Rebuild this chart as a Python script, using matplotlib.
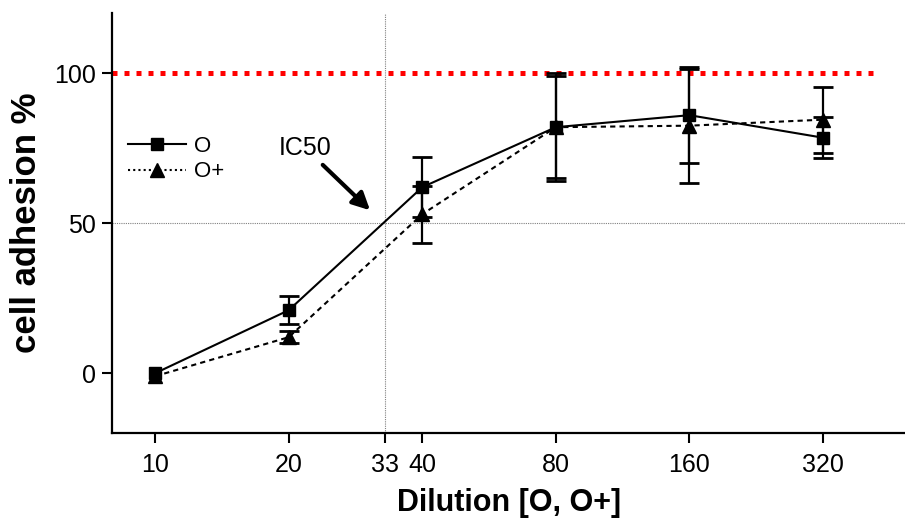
import numpy as np
import matplotlib.pyplot as plt
from matplotlib.ticker import FixedLocator, NullLocator

plt.rcParams['font.family'] = ['Liberation Sans', 'DejaVu Sans']

# dilution steps
dilution = [10, 20, 40, 80, 160, 320]
tick_vals = [10, 20, 33, 40, 80, 160, 320]
tick_labels = ['10', '20', '33', '40', '80', '160', '320']

# cell adhesion % (mean, error); no error bar at 10
o_mean = [0, 21, 62, 82, 86, 78.5]
o_err = [np.nan, 4.7, 10, 17, 16, 6.8]
oplus_mean = [-1, 12, 53, 82, 82.5, 84.5]
oplus_err = [np.nan, 2, 9.5, 18, 19, 11]

ic50 = 33

fig = plt.figure(figsize=(9.05, 5.27), dpi=100)
ax = fig.add_axes([0.124, 0.178, 0.876, 0.797])

ax.set_xscale('log', base=2)
ax.set_xlim(8, 490)
ax.set_ylim(-20, 120)

# reference lines
ax.axhline(100, xmax=0.96, color='red', lw=3.6, ls=(0, (1, 1.4)), dash_capstyle='butt', zorder=1)
ax.axhline(50, color='gray', lw=0.8, ls=(0, (1, 1)), zorder=1)
ax.axvline(ic50, color='gray', lw=0.8, ls=(0, (1, 1)), zorder=1)

ax.errorbar(dilution, o_mean, yerr=o_err, color='black', lw=1.5, marker='s', ms=8.5,
            capsize=7, capthick=2, elinewidth=1.6, label='O', zorder=3)
ax.errorbar(dilution, oplus_mean, yerr=oplus_err, color='black', lw=1.5, ls=(0, (2.5, 2)),
            marker='^', ms=9.5, capsize=7, capthick=2, elinewidth=1.6, label='O+', zorder=3)

ax.annotate('IC50', xy=(30.5, 54.3), xytext=(21.8, 75), fontsize=18,
            ha='center', va='center',
            arrowprops=dict(arrowstyle='-|>', color='black', lw=3, mutation_scale=26,
                            shrinkA=2, shrinkB=0))

handles, labels = ax.get_legend_handles_labels()
handles = [h[0] for h in handles]
leg = ax.legend(handles, labels, loc='upper left', bbox_to_anchor=(0.0, 0.745),
                frameon=False, fontsize=16, handlelength=2.6, handletextpad=0.4,
                labelspacing=0.2, borderaxespad=0.3)
leg.get_lines()[1].set_linestyle((0, (1, 1.5)))

ax.xaxis.set_major_locator(FixedLocator(tick_vals))
ax.xaxis.set_minor_locator(NullLocator())
ax.set_xticklabels(tick_labels, family=['Liberation Sans Narrow', 'Liberation Sans'])
ax.set_yticks([0, 50, 100])

ax.spines['top'].set_visible(False)
ax.spines['right'].set_visible(False)
ax.spines['left'].set_linewidth(1.6)
ax.spines['bottom'].set_linewidth(1.6)
ax.tick_params(axis='both', direction='out', length=7, width=1.5, labelsize=18)
ax.tick_params(axis='x', pad=7)
ax.tick_params(axis='y', pad=5)

ax.set_xlabel('Dilution [O, O+]', fontsize=22, fontweight='bold', labelpad=8)
ax.set_ylabel('cell adhesion %', fontsize=25, fontweight='bold', labelpad=8)

fig.savefig('out.png', dpi=100)
